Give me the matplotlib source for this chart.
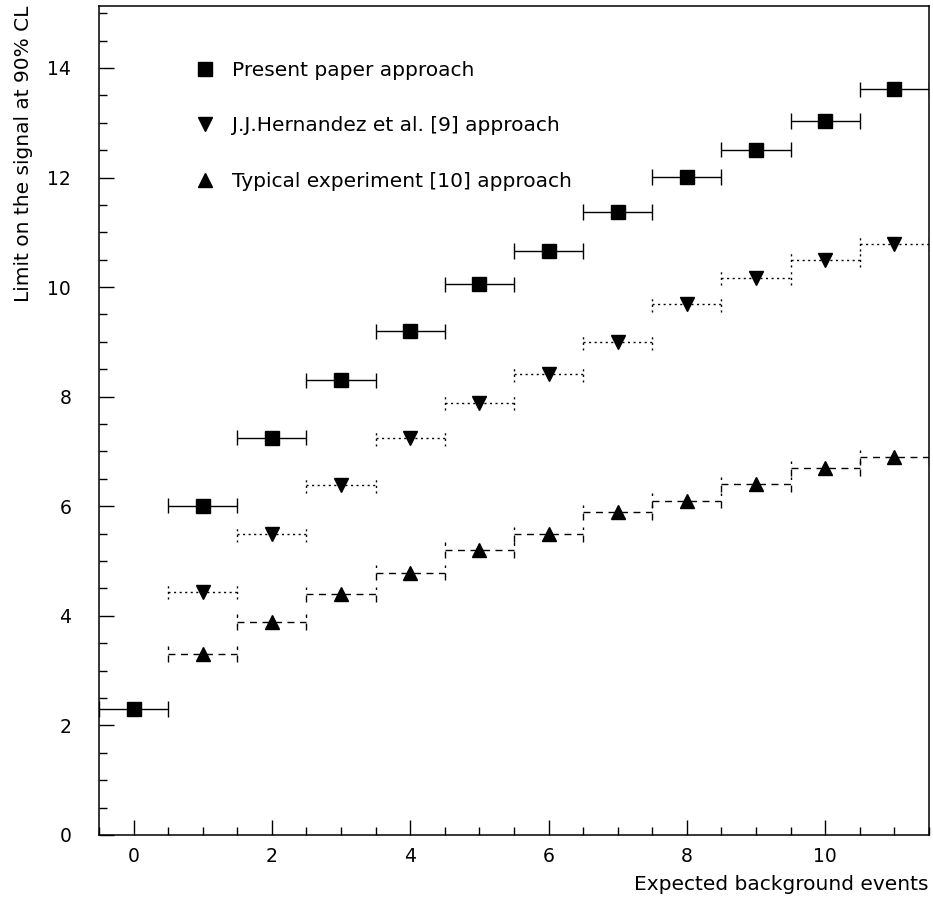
#!/usr/bin/env python3
"""Upper limits on the signal at 90% CL versus expected background."""
import matplotlib

matplotlib.use("Agg")
import matplotlib.pyplot as plt
from matplotlib.lines import Line2D
from matplotlib.ticker import MultipleLocator

# expected background (bin centres), bins are +-0.5 wide
bkg_present = [0, 1, 2, 3, 4, 5, 6, 7, 8, 9, 10, 11]
lim_present = [2.30, 6.01, 7.25, 8.30, 9.19, 10.05, 10.66, 11.37, 12.01, 12.51, 13.03, 13.61]

bkg_hernandez = [1, 2, 3, 4, 5, 6, 7, 8, 9, 10, 11]
lim_hernandez = [4.44, 5.49, 6.39, 7.24, 7.89, 8.41, 9.00, 9.69, 10.17, 10.50, 10.79]

bkg_typical = [1, 2, 3, 4, 5, 6, 7, 8, 9, 10, 11]
lim_typical = [3.30, 3.89, 4.39, 4.79, 5.20, 5.49, 5.89, 6.10, 6.40, 6.69, 6.89]

labels = [
    "Present paper approach",
    "J.J.Hernandez et al. [9] approach",
    "Typical experiment [10] approach",
]

HALF_BIN = 0.5
CAP = 0.14  # half height of the end caps, in y units

plt.rcParams["font.family"] = ["DejaVu Sans"]

fig = plt.figure(figsize=(9.33, 9.01), dpi=100)
ax = fig.add_axes([0.1061, 0.0733, 0.8896, 0.92])


def draw_series(x, y, marker, ls):
    ebar = ax.errorbar(
        x, y, xerr=HALF_BIN, fmt=marker, color="black", markersize=10,
        elinewidth=1.0, capsize=0, zorder=3,
    )
    ebar[2][0].set_linestyle(ls)
    lo = [v - CAP for v in y]
    hi = [v + CAP for v in y]
    for edge in (-HALF_BIN, HALF_BIN):
        ax.vlines([v + edge for v in x], lo, hi, colors="black", linewidth=1.0,
                  linestyles=ls, zorder=3)


draw_series(bkg_present, lim_present, "s", "-")
draw_series(bkg_hernandez, lim_hernandez, "v", (0, (1.5, 2.5)))
draw_series(bkg_typical, lim_typical, "^", (0, (5, 4)))

ax.set_xlim(-0.5, 11.5)
ax.set_ylim(0, 15.13)
ax.xaxis.set_major_locator(MultipleLocator(2))
ax.xaxis.set_minor_locator(MultipleLocator(0.5))
ax.yaxis.set_major_locator(MultipleLocator(2))
ax.yaxis.set_minor_locator(MultipleLocator(0.5))
ax.tick_params(which="both", direction="in", top=False, right=False, width=1.0,
               labelsize=13.5)
ax.tick_params(which="major", length=11)
ax.tick_params(which="minor", length=6)
ax.tick_params(axis="y", pad=20)
ax.tick_params(axis="x", pad=9)
for sp in ax.spines.values():
    sp.set_linewidth(1.1)

ax.set_xlabel("Expected background events", fontsize=14.5, loc="right", labelpad=6)
ax.set_ylabel("Limit on the signal at 90% CL", fontsize=14.5, loc="top", labelpad=10)

handles = [
    Line2D([], [], marker=m, color="black", linestyle="none", markersize=10)
    for m in ("s", "v", "^")
]
ax.legend(
    handles, labels, loc="upper left", bbox_to_anchor=(0.1157, 0.9336),
    frameon=False, fontsize=14.5, handlelength=1.0, handletextpad=0.85,
    labelspacing=1.80, borderpad=0.0, borderaxespad=0.0,
)

fig.savefig("out.png", dpi=100)
